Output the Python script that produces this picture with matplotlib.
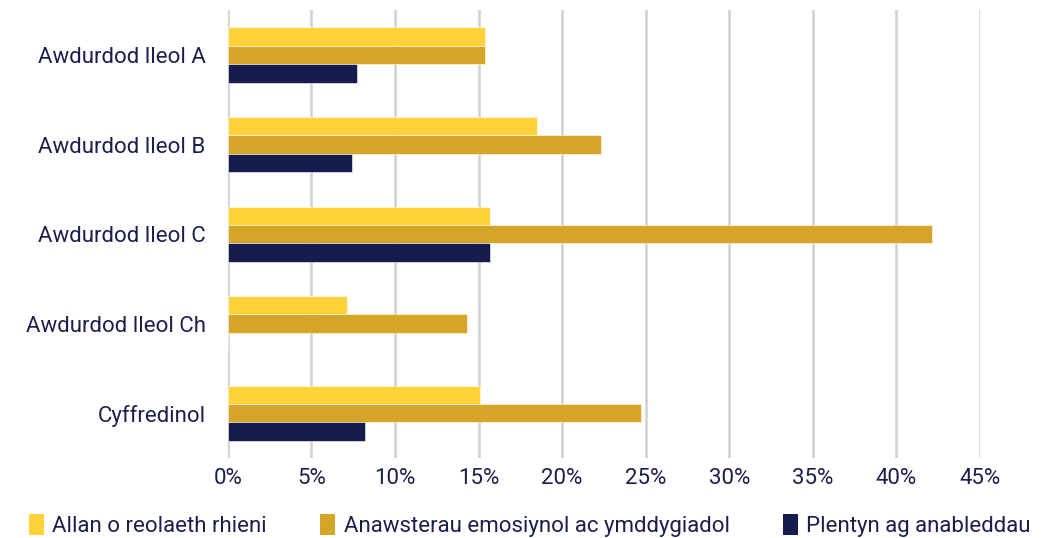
import numpy as np
import matplotlib
matplotlib.use('Agg')
import matplotlib.pyplot as plt
from matplotlib.patches import Patch

# Data
categories = ['Awdurdod lleol A', 'Awdurdod lleol B', 'Awdurdod lleol C',
              'Awdurdod lleol Ch', 'Cyffredinol']
series_names = ['Allan o reolaeth rhieni',
                'Anawsterau emosiynol ac ymddygiadol',
                'Plentyn ag anableddau']
allan = [15.4, 18.5, 15.7, 7.1, 15.1]
anawsterau = [15.4, 22.3, 42.1, 14.3, 24.7]
plentyn = [7.7, 7.4, 15.7, 0, 8.2]
xticks = [0, 5, 10, 15, 20, 25, 30, 35, 40, 45]

colors = ['#FFD23A', '#D4A526', '#171C4E']
text_col = '#1B1F4B'

plt.rcParams['font.family'] = ['Roboto', 'DejaVu Sans']

fig = plt.figure(figsize=(10.6, 5.38), dpi=100)
ax = fig.add_axes([0.215, 0.149, 0.7095, 0.832])

y = np.arange(len(categories))
h = 0.205
for i, (vals, col) in enumerate(zip([allan, anawsterau, plentyn], colors)):
    ax.barh(y + (i - 1) * h, vals, height=h, color=col, zorder=3,
            edgecolor='white', linewidth=0.4)

ax.set_xlim(0, 45)
ax.set_ylim(4.5, -0.5)
ax.set_xticks(xticks)
ax.set_xticklabels([f'{t}%' for t in xticks])
ax.set_yticks(y)
ax.set_yticklabels(categories)
ax.tick_params(axis='both', length=0, labelsize=16, labelcolor=text_col)
ax.tick_params(axis='y', pad=16)
ax.tick_params(axis='x', pad=7)
ax.grid(axis='x', color='#d0d0d0', linewidth=1.8, zorder=0)
for s in ax.spines.values():
    s.set_visible(False)

handles = [Patch(facecolor=c, label=n) for c, n in zip(colors, series_names)]
fig.legend(handles=handles, loc='lower center', bbox_to_anchor=(0.5, -0.035),
           ncol=3, frameon=False, fontsize=16, labelcolor=text_col,
           handlelength=0.65, handleheight=1.1, handletextpad=0.4,
           columnspacing=2.4)

fig.savefig('out.png', dpi=100)
